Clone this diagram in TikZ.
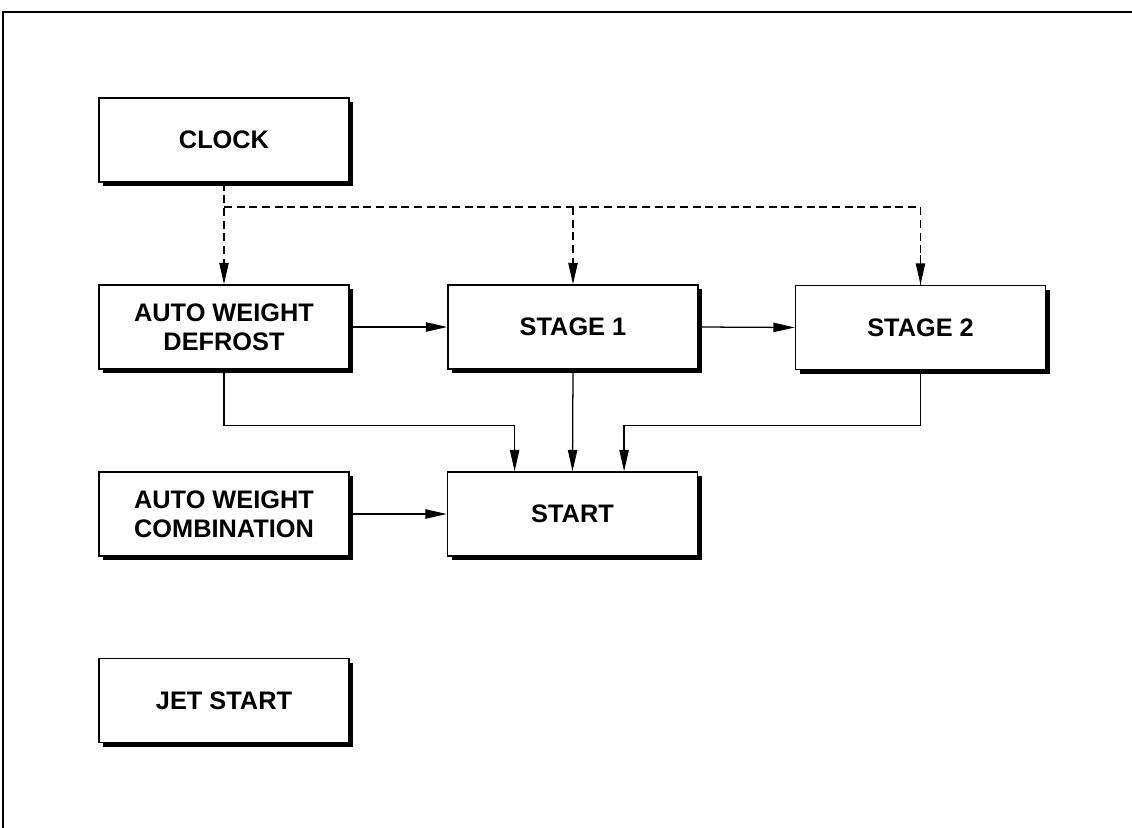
\documentclass[tikz,border=0pt]{standalone}
\usepackage{fontspec}
\setmainfont{Liberation Sans}
\usetikzlibrary{arrows.meta,shadows,calc}
\begin{document}
\begin{tikzpicture}[x=0.75pt,y=-0.75pt,
  box/.style={draw=black, line width=1.2pt, fill=white, minimum width=187.5pt, minimum height=63pt,
    inner sep=0pt, align=center, font=\fontsize{19}{22}\selectfont\bfseries,
    drop shadow={shadow xshift=3pt, shadow yshift=-3pt, opacity=1, fill=black}},
  conn/.style={line width=0.95pt},
  arr/.style={conn, -{Triangle[length=16pt,width=7pt]}},
  darr/.style={arr, dash pattern=on 6pt off 3.5pt},
  dline/.style={conn, dash pattern=on 6pt off 3.5pt}]
\useasboundingbox (0,0) rectangle (1132,828);
\draw[line width=1.8pt] (3,828) -- (3,12) -- (1132,12);

\node[box] (clock) at (224,140) {CLOCK};
\node[box] (awd) at (224,327) {AUTO WEIGHT\\DEFROST};
\node[box] (s1) at (573,327) {STAGE 1};
\node[box] (s2) at (920.5,327.5) {STAGE 2};
\node[box] (start) at (572.5,514) {START};
\node[box] (awc) at (224,514) {AUTO WEIGHT\\COMBINATION};
\node[box] (jet) at (224,700.5) {JET START};

\coordinate (bus) at (224,207);
\draw[darr] (clock.south) -- (awd.north);
\draw[dline] (bus) -| (s2.north);
\draw[darr] (bus -| s1.north) -- (s1.north);
\draw[darr] ($(s2.north)+(0,-30)$) -- (s2.north);

\draw[arr] (awd.east) -- (s1.west);
\draw[arr] (s1.east) -- (s2.west);
\draw[arr] (awc.east) -- (start.west);
\draw[arr] (s1.south) -- (start.north);
\draw[arr] (awd.south) -- ++(0,56) -| ($(start.north west)!0.27!(start.north east)$);
\draw[arr] (s2.south) -- ++(0,55) -| ($(start.north west)!0.705!(start.north east)$);
\end{tikzpicture}
\end{document}
